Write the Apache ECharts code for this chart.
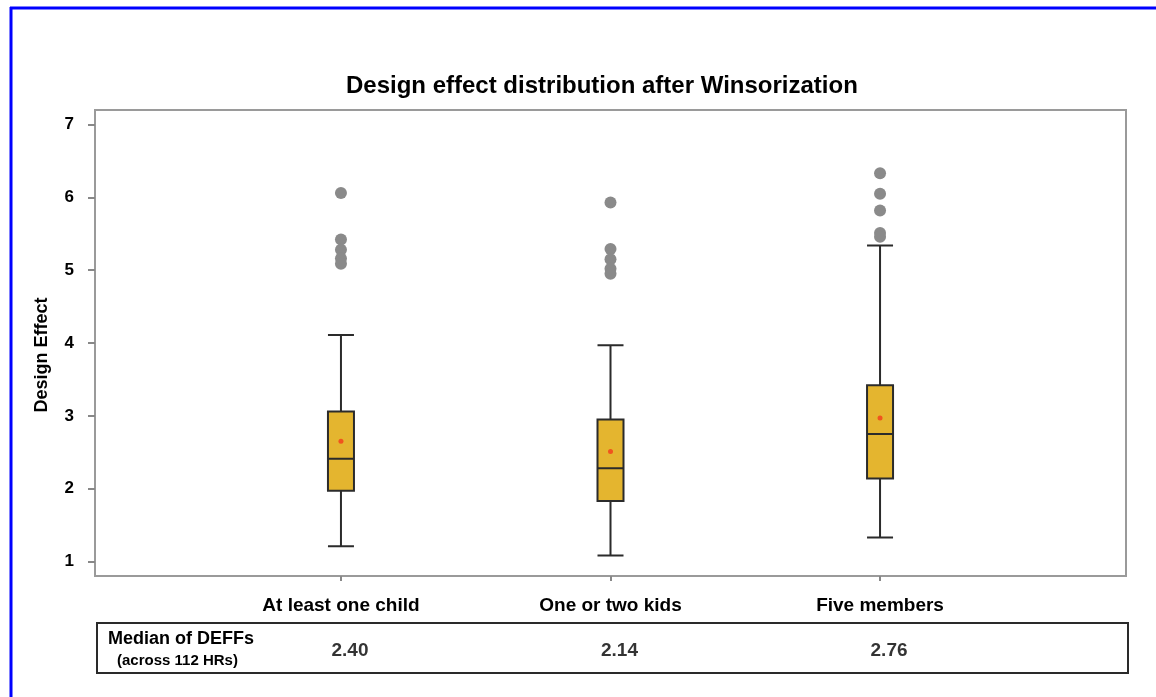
<!DOCTYPE html>
<html>
<head>
<meta charset="utf-8">
<title>Design effect distribution after Winsorization</title>
<style>
  html, body { margin: 0; padding: 0; background: #fff; }
  #main { width: 1156px; height: 697px; }
</style>
</head>
<body>
<div id="main"></div>
<script src="https://cdn.jsdelivr.net/npm/echarts@6/dist/echarts.min.js"></script>
<script>
// groups on the x axis and where they sit
var groups = ['At least one child', 'One or two kids', 'Five members'];
var xPos = [1, 2, 3];
// box stats: [low whisker, Q1, median, Q3, high whisker]
var childBox = [1.21, 1.97, 2.41, 3.06, 4.11];
var kidsBox = [1.08, 1.83, 2.28, 2.95, 3.97];
var fiveBox = [1.33, 2.14, 2.75, 3.42, 5.34];
// mean of each group (small red dot)
var means = [2.65, 2.51, 2.97];
// outliers above the whiskers
var childOut = [6.06, 5.42, 5.28, 5.16, 5.09];
var kidsOut = [5.93, 5.29, 5.15, 5.02, 4.95];
var fiveOut = [6.33, 6.05, 5.82, 5.51, 5.46];
// table under the chart
var medianText = ['2.40', '2.14', '2.76'];
var yTicks = [1, 2, 3, 4, 5, 6, 7];

var FONT = 'Liberation Sans, Arial, Helvetica, sans-serif';

var boxes = [childBox, kidsBox, fiveBox];
var outs = [childOut, kidsOut, fiveOut];

var boxData = boxes.map(function (b, i) { return [xPos[i]].concat(b); });
var outData = [];
outs.forEach(function (list, i) {
    list.forEach(function (v) { outData.push([xPos[i], v]); });
});
var meanData = means.map(function (m, i) { return [xPos[i], m]; });
var tableData = medianText.map(function (t, i) { return [xPos[i], 0.5]; });

var myChart = echarts.init(document.getElementById('main'));

var option = {
    animation: false,
    backgroundColor: '#fff',
    title: {
        text: 'Design effect distribution after Winsorization',
        left: 341,
        top: 69,
        textStyle: { fontFamily: FONT, fontSize: 24, fontWeight: 'bold', color: '#000' }
    },
    grid: [
        { left: 95, top: 110, width: 1031, height: 466, show: true,
          borderColor: '#9a9a9a', borderWidth: 2, backgroundColor: 'transparent' },
        { left: 97, top: 623, width: 1031, height: 50, show: true,
          borderColor: '#2a2a2a', borderWidth: 2, backgroundColor: 'transparent' }
    ],
    xAxis: [
        {
            type: 'value', gridIndex: 0, min: 0.0875, max: 3.9125,
            splitLine: { show: false },
            axisLine: { show: false },
            axisTick: { show: true, customValues: xPos, length: 5, lineStyle: { color: '#888', width: 2 } },
            axisLabel: {
                customValues: xPos, margin: 20,
                fontFamily: FONT, fontSize: 19, fontWeight: 'bold', color: '#000',
                formatter: function (v) { return groups[xPos.indexOf(v)] || ''; }
            }
        },
        { type: 'value', gridIndex: 1, min: 0.0875, max: 3.9125, show: false }
    ],
    yAxis: [
        {
            type: 'value', gridIndex: 0, min: 0.8, max: 7.2,
            splitLine: { show: false },
            axisLine: { show: false },
            axisTick: { show: true, customValues: yTicks, length: 7, lineStyle: { color: '#888', width: 2 } },
            axisLabel: {
                customValues: yTicks, margin: 21,
                fontFamily: FONT, fontSize: 17, fontWeight: 'bold', color: '#000'
            }
        },
        { type: 'value', gridIndex: 1, min: 0, max: 1, show: false }
    ],
    series: [
        {
            type: 'boxplot',
            xAxisIndex: 0, yAxisIndex: 0,
            boxWidth: [26, 26],
            data: boxData,
            itemStyle: { color: '#e4b52f', borderColor: '#2b2b2b', borderWidth: 2 },
            emphasis: { disabled: true }
        },
        {
            type: 'scatter',
            xAxisIndex: 0, yAxisIndex: 0,
            symbolSize: 12,
            data: outData,
            itemStyle: { color: '#8a8a8a', opacity: 1 },
            z: 3
        },
        {
            type: 'scatter',
            xAxisIndex: 0, yAxisIndex: 0,
            symbolSize: 5,
            data: meanData,
            itemStyle: { color: '#f0541e', opacity: 1 },
            z: 4
        },
        {
            // median row of the table
            type: 'scatter',
            xAxisIndex: 1, yAxisIndex: 1,
            symbolSize: 0,
            data: tableData,
            label: {
                show: true, position: 'inside', offset: [7, 3],
                fontFamily: FONT, fontSize: 19, fontWeight: 'bold', color: '#000',
                formatter: function (p) { return medianText[p.dataIndex]; }
            },
            silent: true
        }
    ],
    graphic: [
        // blue frame lines at top and left
        { type: 'line', shape: { x1: 10, y1: 8, x2: 1156, y2: 8 }, style: { stroke: '#0000ff', lineWidth: 3 } },
        { type: 'line', shape: { x1: 11, y1: 7, x2: 11, y2: 697 }, style: { stroke: '#0000ff', lineWidth: 3 } },
        {
            type: 'text', x: 42, y: 355, rotation: Math.PI / 2,
            style: { text: 'Design Effect', fontFamily: FONT, fontSize: 18, fontWeight: 'bold',
                     fill: '#000', align: 'center', verticalAlign: 'middle' }
        },
        {
            type: 'text', x: 108, y: 639,
            style: { text: 'Median of DEFFs', fontFamily: FONT, fontSize: 18, fontWeight: 'bold',
                     fill: '#000', align: 'left', verticalAlign: 'middle' }
        },
        {
            type: 'text', x: 117, y: 661,
            style: { text: '(across 112 HRs)', fontFamily: FONT, fontSize: 15, fontWeight: 'bold',
                     fill: '#000', align: 'left', verticalAlign: 'middle' }
        }
    ]
};

myChart.setOption(option);
</script>
</body>
</html>
